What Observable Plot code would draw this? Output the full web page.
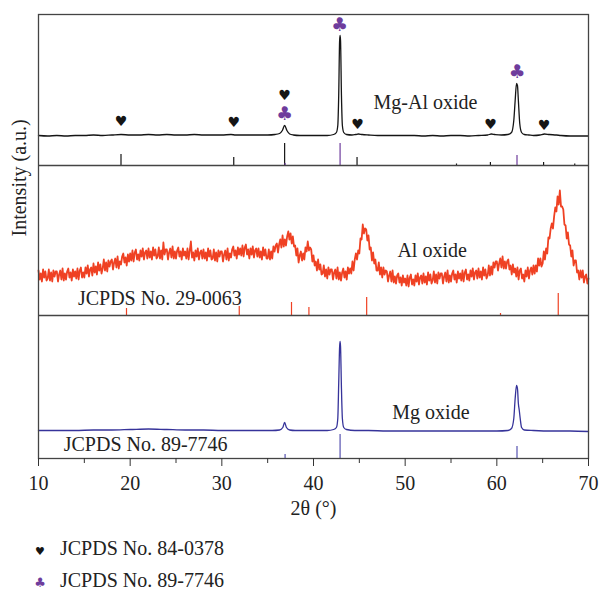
<!DOCTYPE html>
<html><head><meta charset="utf-8">
<script src="https://cdn.jsdelivr.net/npm/d3@7"></script>
<script src="https://cdn.jsdelivr.net/npm/@observablehq/plot@0.6"></script>
<style>
body{margin:0;background:#fff;font-family:"Liberation Serif","DejaVu Serif",serif;color:#222}
#legend{padding-left:30px;padding-top:4px;font-size:20px;line-height:28px}
#legend .sym{display:inline-block;width:20px;text-align:center;margin-right:10px;font-family:"DejaVu Sans",sans-serif}
</style></head><body><div id="chart"></div><div id="legend"></div>
<script>
// ---- data (intensity in arbitrary units, measured above each panel's baseline) ----
const panels = ["Mg-Al oxide", "Al oxide", "Mg oxide"];
const panelOffsets = [293, 143, 0];
const xTicks = [10, 20, 30, 40, 50, 60, 70];
const xMinorTicks = [15, 25, 35, 45, 55, 65];

// Mg-Al oxide pattern
const mgAlTwoTheta = [10,11,12,13,14,15,16,17,18,19,20,21,22,23,24,25,26,27,28,29,30,31,31.5,32,33,34,35,35.8,36.3,36.6,36.85,37.1,37.4,37.8,38.5,39.5,40.5,41.5,42.2,42.5,42.65,42.75,42.85,42.9,42.95,43.05,43.15,43.3,43.6,44.2,44.6,44.9,45.3,46,47,48,49,50,51,52,53,54,55,56,57,58,59,59.4,59.8,60.5,61.2,61.6,61.85,62.0,62.15,62.25,62.35,62.5,62.7,63,63.5,64,64.7,65.2,65.7,66.5,67,68,69,70];
const mgAlIntensity = [30,29.5,30,29.5,30,30,30.5,30,30.5,31,30.5,30.5,31,30.5,31,30.5,30.5,31,30.5,30.5,30.5,31,30.5,30.5,30.5,30.5,30.5,31,32,35,40,35,31.5,30.5,30,30,30,30,31,33,40,70,125,130,125,70,40,33,31,30.5,31,31.5,31,30.5,30,30,30,30,30,29.5,30,29.5,30,30,29.5,30,30.5,31.5,31,30.5,31,33,45,65,82,80,65,42,33,31,30.5,30,30.5,31.5,31,30.5,30,29.5,29.5,29.5];

// Al oxide pattern (noisy scan 10°–70°, step 0.125°, one group per degree)
const alScanStart = 10, alScanStep = 0.125;
const alIntensity = [
45,36,42,34,46,38,44,35,  37,46,35,43,34,45,39,44,  44,34,41,45,36,47,35,42,  36,44,47,38,43,35,46,39,
44,37,47,36,45,48,38,43,  38,48,42,50,39,46,48,40,  52,43,49,41,53,45,51,42,  47,56,45,53,44,55,49,54,
56,46,53,57,48,59,47,54,  51,59,62,53,58,50,61,54,  62,55,65,54,63,66,56,61,  55,65,59,67,56,63,65,57,
67,58,64,56,68,60,66,57,  59,68,57,65,56,73,61,66,  66,56,63,67,58,69,57,64,  57,65,68,59,64,56,67,60,
64,57,67,56,65,74,58,63,  55,65,59,67,56,63,65,57,  66,57,63,55,67,59,65,56,  57,66,55,63,54,65,59,64,
64,54,61,65,56,67,55,62,  58,66,69,60,65,57,68,61,  67,60,70,59,68,71,61,66,  57,67,61,69,58,65,67,59,
67,58,64,56,68,60,66,57,  57,66,56,64,57,69,64,70,  72,63,71,76,68,80,69,76,  70,79,84,76,82,72,79,69,
70,60,67,53,60,64,55,62,  56,68,64,74,65,68,66,54,  60,50,54,45,56,46,51,41,  42,50,39,46,37,48,41,46,
46,36,43,46,37,48,36,43,  35,43,47,38,44,36,48,42,  47,42,54,45,56,62,56,65,  62,77,76,91,82,87,86,75,
80,66,68,55,63,52,56,45,  45,53,41,48,38,48,41,45,  44,34,40,44,34,45,33,39,  32,40,42,33,38,30,40,33,
37,30,40,29,38,41,31,36,  30,40,34,42,31,38,40,32,  42,33,39,31,43,35,41,32,  35,44,33,41,32,43,37,42,
42,32,39,43,34,45,33,40,  34,42,45,36,41,33,44,37,  42,35,45,34,43,46,36,41,  35,45,39,47,36,43,45,37,
47,38,44,36,48,40,46,37,  40,50,40,49,41,53,48,54,  54,45,52,57,48,59,47,54,  47,54,56,46,50,41,51,43,
47,39,48,36,45,47,37,41,  34,45,39,48,37,45,48,41,  50,42,50,44,57,50,57,49,  52,64,56,67,62,78,77,87,
92,87,99,108,104,119,111,125,  109,109,106,91,90,77,83,71,  70,59,65,50,55,55,43,45,  36,45,38,45,33,39,41,32,
37];

// Mg oxide pattern
const mgTwoTheta = [10,12,14,16,18,20,22,24,26,28,30,32,34,35.5,36.3,36.65,36.85,37.05,37.4,38,40,41.5,42.2,42.5,42.65,42.75,42.85,42.9,42.95,43.05,43.15,43.3,43.6,44.5,46,48,50,52,54,56,58,60,61.2,61.6,61.85,62.0,62.15,62.25,62.35,62.45,62.55,62.7,63,64,66,68,70];
const mgIntensity = [28,28,28,28.5,28.5,29,29.5,29,28.5,28.5,28,28,28,28,28.5,31,36,31,28.5,28,28,28,29,31,40,75,112,117,112,70,40,31,29,28,28,27.5,27.5,27.5,27.5,27.5,27.5,27.5,28,30,40,60,73,70,55,48,40,31,28.5,28,27.5,27.5,27];

// reference patterns (stick positions / relative heights)
const jcpds840378TwoTheta = [19.0, 31.3, 36.85, 44.75, 55.6, 59.3, 65.1, 68.5];
const jcpds840378Height = [11, 8, 22, 8, 1.5, 3, 3, 1.5];
const jcpds897746TwoTheta = [36.9, 42.9, 62.2];
const jcpds897746HeightTop = [2, 22, 10];
const jcpds897746HeightBottom = [4, 24, 12];
const jcpds290063TwoTheta = [19.6, 31.9, 37.6, 39.5, 45.8, 60.4, 66.7];
const jcpds290063Height = [7, 9, 13, 8, 18, 2, 22];

// phase markers on the Mg-Al oxide pattern
const heartTwoTheta = [19.0, 31.3, 36.85, 44.8, 59.3, 65.15];
const heartHeight = [44, 43, 70, 41, 41, 40];
const clubTwoTheta = [36.85, 42.85, 62.2];
const clubHeight = [52, 141, 94];

// ---- build tables ----
const [offTop, offMid, offBot] = panelOffsets;
const mgAlRows = mgAlTwoTheta.map((x, i) => ({x, y: offTop + mgAlIntensity[i]}));
const alRows = alIntensity.map((v, i) => ({x: alScanStart + i * alScanStep, y: offMid + v}));
const mgRows = mgTwoTheta.map((x, i) => ({x, y: offBot + mgIntensity[i]}));
const sticks = (xs, hs, off) => xs.map((x, i) => ({x, y1: off, y2: off + hs[i]}));
const heartRows = heartTwoTheta.map((x, i) => ({x, y: offTop + heartHeight[i]}));
const clubRows = clubTwoTheta.map((x, i) => ({x, y: offTop + clubHeight[i]}));

const BLACK = "#151515", RED = "#ef4123", BLUE = "#36339a", PURPLE = "#6e3c9c";
const FRAME = "#444";
const SERIF = "Liberation Serif, DejaVu Serif, serif";

const chart = Plot.plot({
  width: 601, height: 530,
  marginLeft: 38, marginRight: 13, marginTop: 14, marginBottom: 72,
  style: {fontFamily: SERIF, fontSize: "20px", color: "#222", background: "#fff"},
  x: {domain: [10, 70], axis: null},
  y: {domain: [0, 444], axis: null},
  marks: [
    // reference sticks
    Plot.ruleX(sticks(jcpds840378TwoTheta, jcpds840378Height, offTop), {x: "x", y1: "y1", y2: "y2", stroke: BLACK, strokeWidth: 1.2}),
    Plot.ruleX(sticks(jcpds897746TwoTheta, jcpds897746HeightTop, offTop), {x: "x", y1: "y1", y2: "y2", stroke: PURPLE, strokeWidth: 1.2}),
    Plot.ruleX(sticks(jcpds290063TwoTheta, jcpds290063Height, offMid), {x: "x", y1: "y1", y2: "y2", stroke: RED, strokeWidth: 1.2}),
    Plot.ruleX(sticks(jcpds897746TwoTheta, jcpds897746HeightBottom, offBot), {x: "x", y1: "y1", y2: "y2", stroke: "#5652b0", strokeWidth: 1.2}),
    // patterns
    Plot.line(mgAlRows, {x: "x", y: "y", stroke: BLACK, strokeWidth: 1.3, curve: "monotone-x"}),
    Plot.line(alRows, {x: "x", y: "y", stroke: RED, strokeWidth: 1.8}),
    Plot.line(mgRows, {x: "x", y: "y", stroke: BLUE, strokeWidth: 1.3, curve: "monotone-x"}),
    // markers
    Plot.text(heartRows, {x: "x", y: "y", text: () => "\u2665", fill: BLACK, fontSize: 14, fontFamily: "DejaVu Sans"}),
    Plot.text(clubRows, {x: "x", y: "y", text: () => "\u2663", fill: PURPLE, fontSize: 19, fontFamily: "DejaVu Sans"}),
    // panel labels
    Plot.text([panels[0]], {x: 46.55, y: offTop + 57, text: d => d, textAnchor: "start", lineAnchor: "bottom", fontSize: 20, fontFamily: SERIF, fill: "#222"}),
    Plot.text([panels[1]], {x: 49.15, y: offMid + 59, text: d => d, textAnchor: "start", lineAnchor: "bottom", fontSize: 20, fontFamily: SERIF, fill: "#222"}),
    Plot.text([panels[2]], {x: 48.6, y: offBot + 40, text: d => d, textAnchor: "start", lineAnchor: "bottom", fontSize: 20, fontFamily: SERIF, fill: "#222"}),
    Plot.text(["JCPDS No. 29-0063"], {x: 14.3, y: offMid + 11, text: d => d, textAnchor: "start", lineAnchor: "bottom", fontSize: 20, fontFamily: SERIF, fill: "#222"}),
    Plot.text(["JCPDS No. 89-7746"], {x: 12.75, y: offBot + 8, text: d => d, textAnchor: "start", lineAnchor: "bottom", fontSize: 20, fontFamily: SERIF, fill: "#222"}),
    // frame and panel separators
    Plot.ruleY([offTop, offMid], {stroke: FRAME, strokeWidth: 1.3}),
    Plot.frame({stroke: FRAME, strokeWidth: 1.3}),
    // axes
    Plot.axisX(xMinorTicks, {tickSize: 5, tickFormat: () => "", stroke: "#333", label: null}),
    Plot.axisX(xTicks, {tickSize: 8, tickPadding: 9, fontSize: 20, fontFamily: SERIF, stroke: "#333", fill: "#222", label: null, tickFormat: d => String(d)}),
    Plot.text(["Intensity (a.u.)"], {frameAnchor: "left", rotate: -90, dx: -19, fontSize: 20, fontFamily: SERIF, fill: "#222"}),
    Plot.text(["2\u03B8 (\u00B0)"], {frameAnchor: "bottom", lineAnchor: "bottom", dy: 56, fontSize: 20, fontFamily: SERIF, fill: "#222", ariaLabel: "xlabel"})
  ]
});
document.getElementById("chart").append(chart);

// italic theta in the x-axis title
const xl = d3.select(chart).select('g[aria-label="xlabel"] text');
if (!xl.empty()) {
  xl.text(null);
  xl.append("tspan").text("2");
  xl.append("tspan").attr("font-style", "italic").text("\u03B8");
  xl.append("tspan").text(" (\u00B0)");
}

// legend below the chart
const legendItems = [
  {sym: "\u2665", color: BLACK, size: 11, label: "JCPDS No. 84-0378"},
  {sym: "\u2663", color: PURPLE, size: 13, label: "JCPDS No. 89-7746"}
];
const lg = d3.select("#legend");
legendItems.forEach(d => {
  const row = lg.append("div");
  row.append("span").attr("class", "sym").style("color", d.color).style("font-size", d.size + "px").text(d.sym);
  row.append("span").text(d.label);
});
</script></body></html>
